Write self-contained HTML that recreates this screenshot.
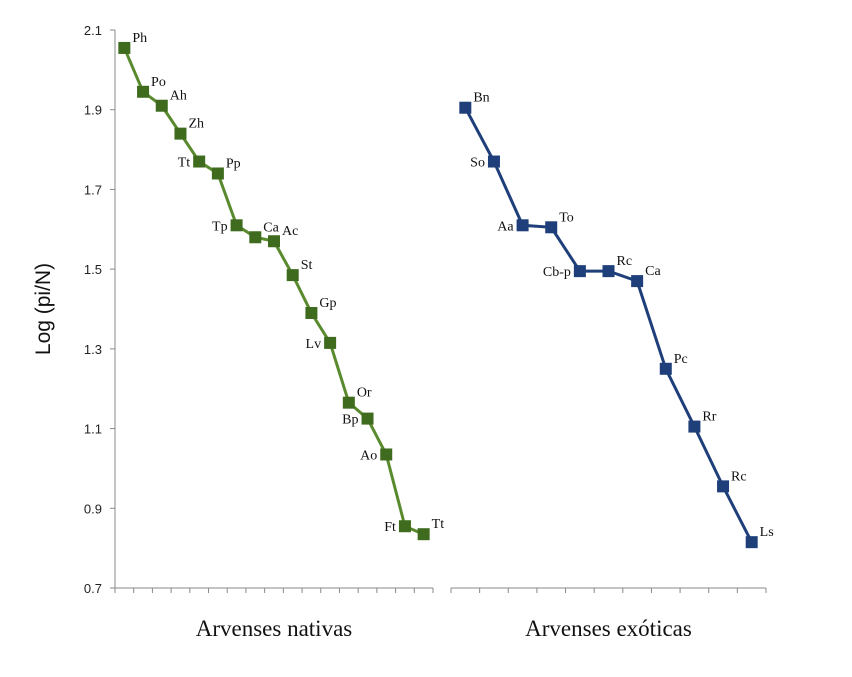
<!DOCTYPE html>
<html><head><meta charset="utf-8"><style>body{margin:0;background:#fff}svg{display:block}</style></head>
<body>
<svg id="c" width="852" height="677" xmlns="http://www.w3.org/2000/svg"></svg>
<script>
const nativeLabels=["Ph","Po","Ah","Zh","Tt","Pp","Tp","Ca","Ac","St","Gp","Lv","Or","Bp","Ao","Ft","Tt"];
const nativeValues=[2.055,1.945,1.91,1.84,1.77,1.74,1.61,1.58,1.57,1.485,1.39,1.315,1.165,1.125,1.035,0.855,0.835];
const nativeSide=["r","r","r","r","l","r","l","r","r","r","r","l","r","l","l","l","r"];
const exoticLabels=["Bn","So","Aa","To","Cb-p","Rc","Ca","Pc","Rr","Rc","Ls"];
const exoticValues=[1.905,1.77,1.61,1.605,1.495,1.495,1.47,1.25,1.105,0.955,0.815];
const exoticSide=["r","l","l","r","l","r","r","r","r","r","r"];
const yTicks=[0.7,0.9,1.1,1.3,1.5,1.7,1.9,2.1];
const NS="http://www.w3.org/2000/svg",svg=document.getElementById('c');
function y(v){return 588-(v-0.7)/1.4*558;}
function mk(t,a,txt){const e=document.createElementNS(NS,t);for(const k in a)e.setAttribute(k,a[k]);if(txt!=null)e.textContent=txt;svg.appendChild(e);return e;}
// y axis
let e=mk('line',{x1:115,y1:30,x2:115,y2:588,stroke:'#888'});


yTicks.forEach(t=>{
 let l=mk('line',{x1:110,x2:115,y1:y(t),y2:y(t),stroke:'#888'});
 
 
 let tx=mk('text',{x:102,y:y(t)+5,'text-anchor':'end','font-family':'Liberation Sans, sans-serif','font-size':13,fill:'#222'},t.toFixed(1));
 
 
});
e=mk('text',{x:50,y:309,transform:'rotate(-90 50 309)','text-anchor':'middle','font-family':'Liberation Sans, sans-serif','font-size':21,fill:'#111'},'Log (pi/N)');


function panel(x0,x1,labels,vals,side,color,title,name){
 const n=vals.length,step=(x1-x0)/n;
 let a=mk('line',{x1:x0,x2:x1,y1:588,y2:588,stroke:'#888'});
 
 
 for(let i=0;i<=n;i++){let t=mk('line',{x1:x0+i*step,x2:x0+i*step,y1:588,y2:593,stroke:'#888'});
  
  }
 const px=i=>x0+(i+0.5)*step;
 let p=mk('polyline',{points:vals.map((v,i)=>px(i)+','+y(v)).join(' '),fill:'none',stroke:color,'stroke-width':3});
 
 
 vals.forEach((v,i)=>{
  let r=mk('rect',{x:px(i)-6,y:y(v)-6,width:12,height:12,fill:color});
  
  
  const s=side[i]=='l';
  let t=mk('text',{x:s?px(i)-9:px(i)+8,y:s?y(v)+5:y(v)-6,'text-anchor':s?'end':'start','font-family':'Liberation Serif, serif','font-size':14,fill:'#111'},labels[i]);
  
  
 });
 let ti=mk('text',{x:(x0+x1)/2,y:636,'text-anchor':'middle','font-family':'Liberation Serif, serif','font-size':23,fill:'#111'},title);
 
 
}
panel(115,433,nativeLabels,nativeValues,nativeSide,'#3f6b1f','Arvenses nativas','native');
panel(451,766,exoticLabels,exoticValues,exoticSide,'#1f3f7a','Arvenses exóticas','exotic');
svg.querySelectorAll('polyline').forEach(p=>{if(p.getAttribute('stroke')=='#3f6b1f')p.setAttribute('stroke','#5a8a2e');});
</script>
</body></html>
